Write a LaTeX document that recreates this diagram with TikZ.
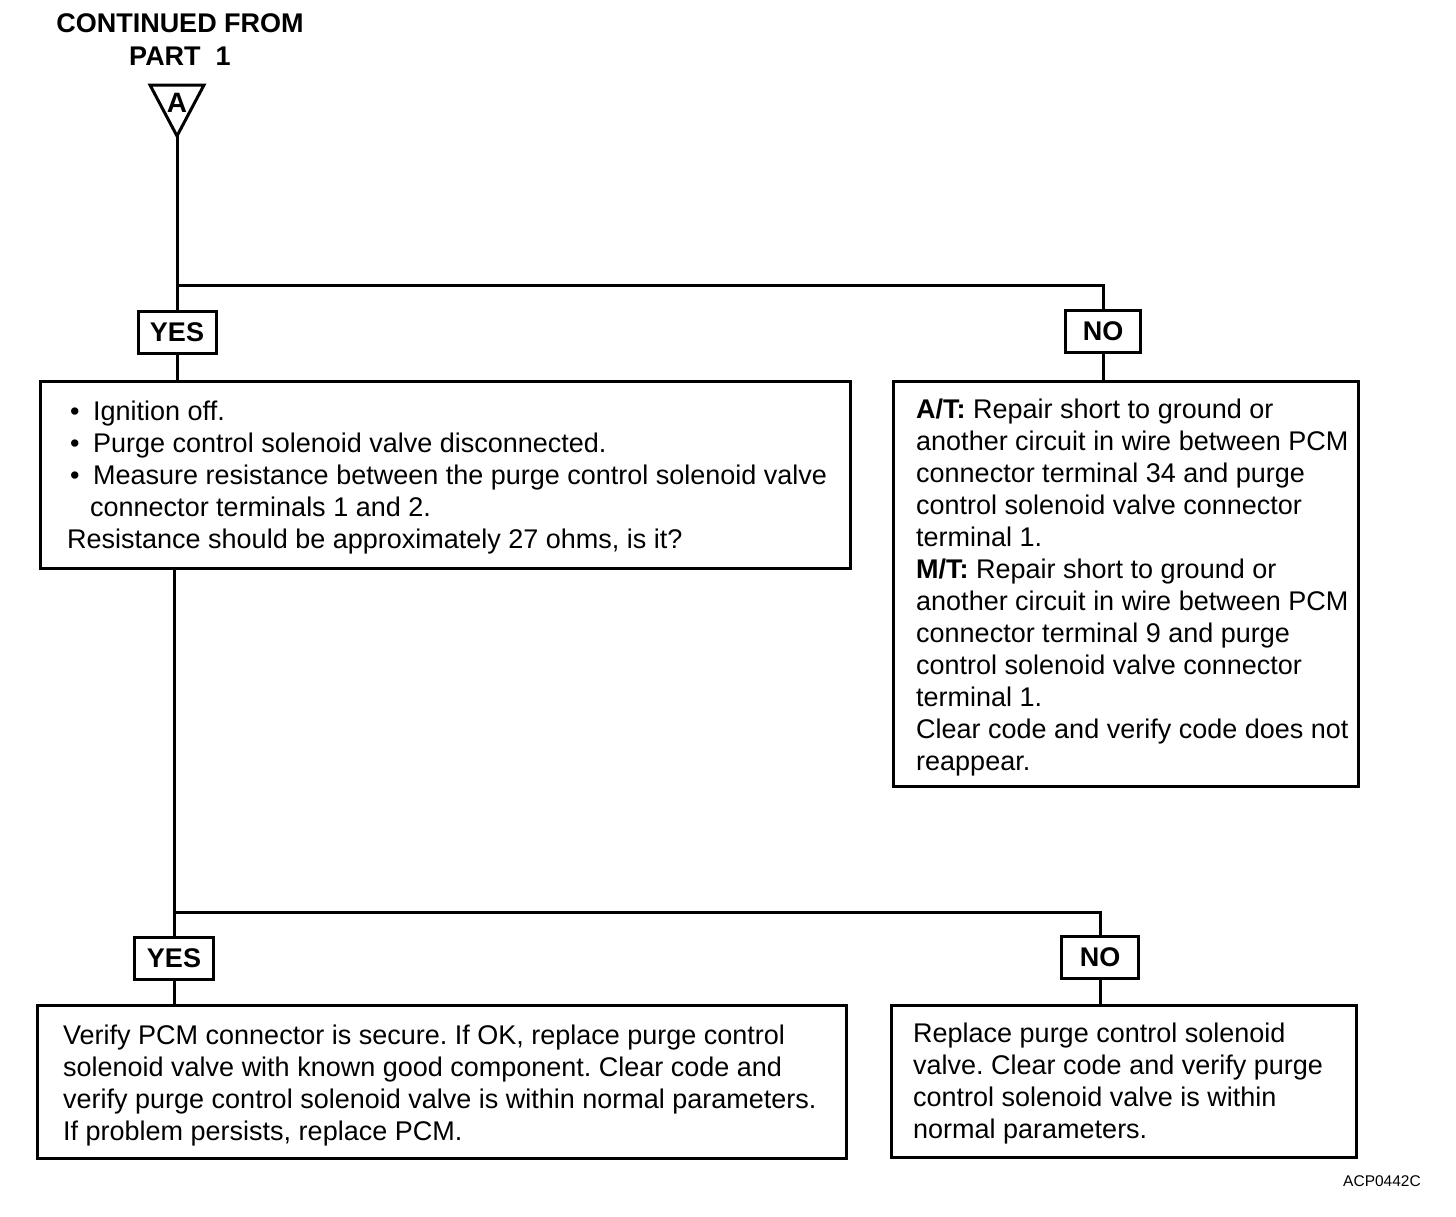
\documentclass[tikz,border=0pt]{standalone}
\usepackage{fontspec}
\setmainfont{Liberation Sans}
\frenchspacing
\begin{document}
\begin{tikzpicture}[x=1pt,y=-1pt,
  every node/.style={inner sep=0pt},
  frame/.style={draw, line width=3pt, rectangle},
  tag/.style={draw, line width=3pt, rectangle, minimum height=42pt, font=\fontsize{27}{32}\selectfont\bfseries},
  body/.style={anchor=north west, align=left, font=\fontsize{27}{32}\selectfont},
  wire/.style={line width=3pt}]
\useasboundingbox (0,0) rectangle (1456,1216);

% heading
\node[anchor=north, align=center, font=\fontsize{27}{33}\selectfont\bfseries] (head) at (180,9.6) {\strut CONTINUED FROM\\PART~~1};

% off-page connector triangle
\coordinate (tl) at (150,85);
\coordinate (tr) at (204,85);
\coordinate (apex) at (177,136);
\draw[wire, line join=miter] (tl) -- (tr) -- (apex) -- cycle;
\node[font=\fontsize{28}{32}\selectfont\bfseries] (A) at (177,103) {A};

% first decision
\node[tag, minimum width=78pt] (yes1) at (177,332) {YES};
\node[tag, minimum width=75pt] (no1) at (1103,331) {NO};
\coordinate (j1) at (177,285);

\node[frame, minimum width=810pt, minimum height=187pt] (b1) at (445,474.5) {};
\node[frame, minimum width=465pt, minimum height=405pt] (b2) at (1125.5,583.5) {};

\node[body] (t1) at (67,397.6) {\strut\makebox[26pt][l]{\hspace*{3pt}•}Ignition off.\\
\makebox[26pt][l]{\hspace*{3pt}•}Purge control solenoid valve disconnected.\\
\makebox[26pt][l]{\hspace*{3pt}•}Measure resistance between the purge control solenoid valve\\
\hspace*{23pt}connector terminals 1 and 2.\\
Resistance should be approximately 27 ohms, is it?};

\node[body] (t2) at (916,395.6) {\strut\textbf{A/T:} Repair short to ground or\\
another circuit in wire between PCM\\
connector terminal 34 and purge\\
control solenoid valve connector\\
terminal 1.\\
\textbf{M/T:} Repair short to ground or\\
another circuit in wire between PCM\\
connector terminal 9 and purge\\
control solenoid valve connector\\
terminal 1.\\
Clear code and verify code does not\\
reappear.};

% second decision
\node[tag, minimum width=79pt] (yes2) at (174,958) {YES};
\node[tag, minimum width=77pt] (no2) at (1100,957) {NO};
\coordinate (j2) at (174,912);

\node[frame, minimum width=809pt, minimum height=153pt] (b3) at (441.5,1081.5) {};
\node[frame, minimum width=465pt, minimum height=152pt] (b4) at (1123.5,1081) {};

\node[body] (t3) at (63,1021.6) {\strut Verify PCM connector is secure. If OK, replace purge control\\
solenoid valve with known good component. Clear code and\\
verify purge control solenoid valve is within normal parameters.\\
If problem persists, replace PCM.};

\node[body] (t4) at (913,1019.6) {\strut Replace purge control solenoid\\
valve. Clear code and verify purge\\
control solenoid valve is within\\
normal parameters.};

\node[font=\fontsize{15.5}{18}\selectfont] (code) at (1382,1181) {ACP0442C};

% connectors
\draw[wire] (apex) -- (yes1.north);
\draw[wire] (j1) -| (no1.north);
\draw[wire] (yes1.south) -- (yes1.south |- b1.north);
\draw[wire] (no1.south) -- (no1.south |- b2.north);
\draw[wire] (yes2 |- b1.south) -- (yes2.north);
\draw[wire] (j2) -| (no2.north);
\draw[wire] (yes2.south) -- (yes2.south |- b3.north);
\draw[wire] (no2.south) -- (no2.south |- b4.north);
\end{tikzpicture}
\end{document}
